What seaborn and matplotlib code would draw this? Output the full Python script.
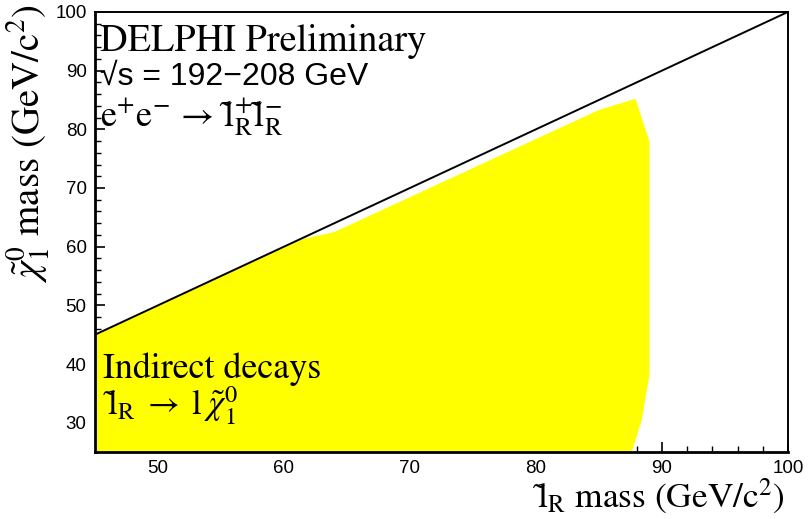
import matplotlib
matplotlib.use("Agg")
import matplotlib.pyplot as plt
from matplotlib.ticker import MultipleLocator
import seaborn as sns
import pandas as pd

# Excluded region boundary (slepton mass, neutralino mass) in GeV/c^2
slepton_mass = [45.0, 61.3, 64.0, 85.0, 87.9, 89.0, 89.0, 88.8, 88.4, 87.6]
neutralino_mass = [45.0, 61.2, 62.5, 83.3, 85.2, 77.9, 38.0, 35.6, 30.5, 25.0]

# Kinematic limit m(chi) = m(slepton)
limit_x = [45.0, 100.0]
limit_y = [45.0, 100.0]

x_range = (45, 100)
y_range = (25, 100)
x_ticks = [50, 60, 70, 80, 90, 100]
y_ticks = [30, 40, 50, 60, 70, 80, 90, 100]

sns.set_theme(style="white")
plt.rcParams["font.family"] = ["Liberation Sans", "DejaVu Sans"]
plt.rcParams["mathtext.fontset"] = "stix"
plt.rcParams["text.color"] = "black"

# slepton symbol: "l" carrying a combining tilde
SLEP = "\\mathrm{l\u0303}"

fig = plt.figure(figsize=(8.09, 5.19), dpi=100)
ax = fig.add_axes([0.1174, 0.129, 0.8566, 0.848])

# Excluded area, closed along the lower axis edge
poly_x = slepton_mass + [x_range[0]]
poly_y = neutralino_mass + [y_range[0]]
ax.fill(poly_x, poly_y, color="#ffff00", lw=0, zorder=1)

limit = pd.DataFrame({"m_slepton": limit_x, "m_chi": limit_y})
sns.lineplot(data=limit, x="m_slepton", y="m_chi", color="black",
             linewidth=1.4, ax=ax, zorder=3)

ax.set_xlim(*x_range)
ax.set_ylim(*y_range)
ax.set_xticks(x_ticks)
ax.set_yticks(y_ticks)
ax.xaxis.set_minor_locator(MultipleLocator(2))
ax.yaxis.set_minor_locator(MultipleLocator(2))
ax.tick_params(which="both", direction="in", colors="black",
               labelcolor="black",
               bottom=True, left=True, top=False, right=False)
ax.tick_params(which="major", length=7, width=1.2, labelsize=13.5, pad=6)
ax.tick_params(which="minor", length=4, width=1.0)

for side, w in {"left": 2.0, "bottom": 2.0, "top": 1.4, "right": 1.4}.items():
    ax.spines[side].set_color("black")
    ax.spines[side].set_linewidth(w)

serif = ["STIXGeneral", "Liberation Serif", "DejaVu Serif"]

ax.set_xlabel("$" + SLEP + "_{\\mathrm{R}}$ mass (GeV/c$^{2}$)",
              family=serif, fontsize=25.5, loc="right", color="black")
ax.xaxis.set_label_coords(0.9957, -0.057)
ax.set_ylabel(r"$\tilde{\chi}^{0}_{1}$ mass (GeV/c$^{2}$)",
              family=serif, fontsize=28, loc="top", color="black")
ax.yaxis.set_label_coords(-0.062, 1.016)

ax.text(45.4, 93.4, "DELPHI Preliminary", family=serif, fontsize=27.5,
        va="baseline", ha="left")
ax.text(45.4, 87.6, "\u221as = 192\u2212208 GeV",
        family=["Liberation Sans", "DejaVu Sans"], fontsize=23,
        va="baseline", ha="left")
ax.text(45.4, 80.4,
        "$\\mathrm{e^{+}e^{-}}\\,\\rightarrow\\," + SLEP + "^{+}_{\\mathrm{R}}"
        + SLEP + "^{-}_{\\mathrm{R}}$",
        fontsize=26, va="baseline", ha="left")
ax.text(45.6, 37.6, "Indirect decays", family=serif, fontsize=25.8,
        va="baseline", ha="left")
ax.text(45.6, 31.2,
        "$" + SLEP + "_{\\mathrm{R}}\\;\\rightarrow\\;\\mathrm{l}\\;"
        "\\tilde{\\chi}^{0}_{1}$",
        fontsize=25, va="baseline", ha="left")

fig.savefig("out.png", dpi=100, facecolor="white")
